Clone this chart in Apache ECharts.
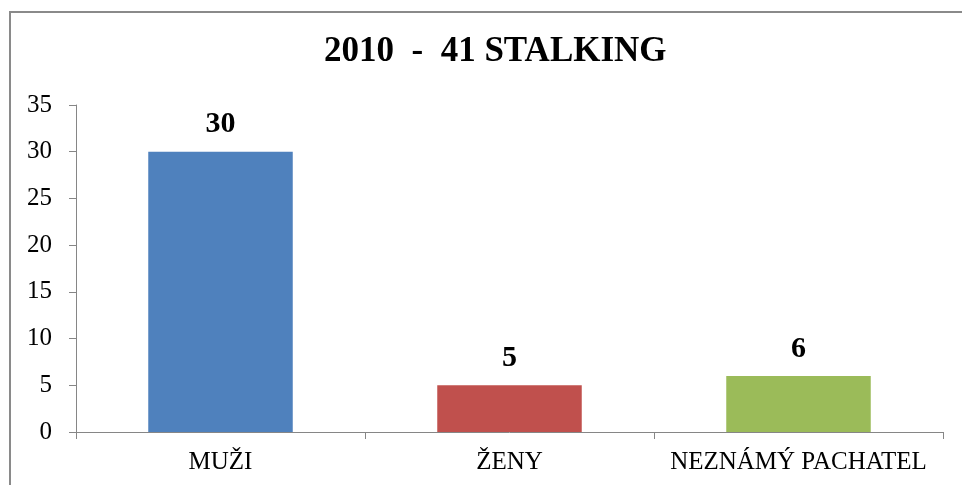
<!DOCTYPE html>
<html>
<head>
<meta charset="utf-8">
<script src="https://cdn.jsdelivr.net/npm/echarts@6/dist/echarts.min.js"></script>
<style>
html,body{margin:0;padding:0;background:#fff;}
#chart{width:962px;height:485px;}
</style>
</head>
<body>
<div id="chart"></div>
<script>
const titleText = '2010  -  41 STALKING';
const categories = ['MUŽI', 'ŽENY', 'NEZNÁMÝ PACHATEL'];
const values = [30, 5, 6];
const yTicks = [0, 5, 10, 15, 20, 25, 30, 35];
const barColors = ['#4F81BD', '#C0504D', '#9BBB59'];

const font = '"Liberation Serif", "Times New Roman", serif';
const chart = echarts.init(document.getElementById('chart'), null, {renderer: 'canvas'});
chart.setOption({
  animation: false,
  backgroundColor: '#fff',
  graphic: [{
    type: 'rect',
    shape: {x: 10, y: 12, width: 1200, height: 1000},
    style: {fill: 'none', stroke: '#8a8a8a', lineWidth: 2},
    silent: true, z: -1
  }],
  title: {
    text: titleText,
    left: 319, top: 29,
    textStyle: {fontFamily: font, fontWeight: 'bold', fontSize: 35, color: '#000'}
  },
  grid: {left: 76, right: 19, top: 105, bottom: 53, containLabel: false},
  xAxis: {
    type: 'category',
    data: categories,
    axisLine: {lineStyle: {color: '#868686', width: 1}},
    axisTick: {show: true, length: 7, lineStyle: {color: '#868686'}},
    axisLabel: {fontFamily: font, fontSize: 25, color: '#000', margin: 18, interval: 0, hideOverlap: false}
  },
  yAxis: {
    type: 'value',
    min: yTicks[0], max: yTicks[yTicks.length - 1], interval: yTicks[1] - yTicks[0],
    splitLine: {show: false},
    axisLine: {show: true, lineStyle: {color: '#868686', width: 1}},
    axisTick: {show: true, length: 7, lineStyle: {color: '#868686'}},
    axisLabel: {fontFamily: font, fontSize: 25, color: '#000', margin: 24}
  },
  series: [{
    type: 'bar',
    barWidth: '50%',
    data: values.map((v, i) => ({value: v, itemStyle: {color: barColors[i]}})),
    label: {
      show: true, position: 'top', distance: 12,
      fontFamily: font, fontWeight: 'bold', fontSize: 30, color: '#000'
    }
  }]
});
</script>
</body>
</html>
